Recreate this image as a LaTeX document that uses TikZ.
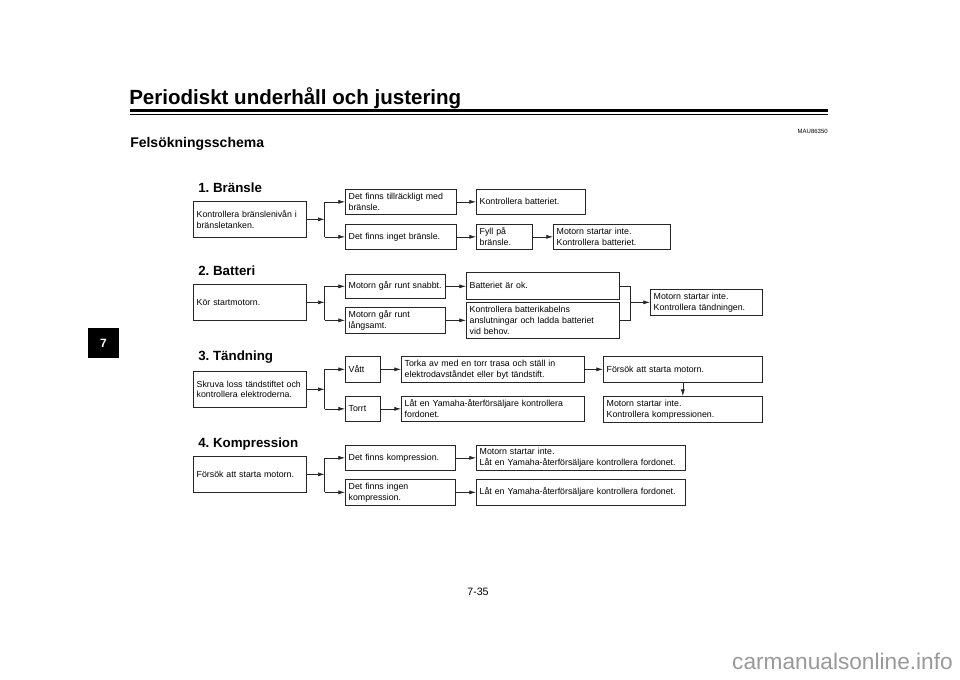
\documentclass[tikz,border=0pt]{standalone}
\usepackage{fontspec}
\setmainfont{Liberation Sans}
\usetikzlibrary{arrows.meta}
\frenchspacing

\tikzset{
  fbox/.style 2 args={draw=black!85,line width=0.5pt,rectangle,anchor=north west,
    inner xsep=2.5pt,inner ysep=0pt,minimum width=#1*0.75pt,minimum height=#2*0.75pt,
    text width=#1*0.75pt-5pt,align=left,font=\fontsize{6.6}{8.2}\selectfont},
  head/.style={anchor=west,inner sep=0pt,font=\fontsize{10}{12}\selectfont\bfseries},
  link/.style={draw=black!85,line width=0.5pt},
  arr/.style={link,-{Latex[length=5pt,width=3pt]}},
}

\begin{document}
\begin{tikzpicture}[x=0.75pt,y=-0.75pt]
\useasboundingbox[fill=white] (0,0) rectangle (960,679);

\node[anchor=base west,inner sep=0pt,font=\fontsize{15.4}{18}\selectfont\bfseries] (title) at (129,104) {Periodiskt underhåll och justering};
\draw[line width=1.8pt] (130,110.5) -- (828,110.5);
\draw[line width=0.6pt] (130,114) -- (828,114);
\node[anchor=east,inner sep=0pt,font=\fontsize{4.5}{5}\selectfont] (code) at (828,131) {MAU86350};
\node[anchor=base west,inner sep=0pt,font=\fontsize{10.5}{12}\selectfont\bfseries] (sub) at (130,147) {Felsökningsschema};

\node[fill=black,minimum width=31*0.75pt,minimum height=30*0.75pt,inner sep=0pt,text=white,font=\fontsize{9}{10}\selectfont\bfseries] (tab) at (103.5,343) {7};
\node[font=\fontsize{8}{10}\selectfont,inner sep=0pt] (page) at (478,592) {7-35};
\node[anchor=east,inner sep=0pt,text=black!40,font=\fontsize{17}{20}\selectfont] (wm) at (953,661) {carmanualsonline.info};

% 1. Bränsle
\node[head] (h1) at (198,188) {1. Bränsle};
\node[fbox={113}{36}] (a1) at (193,201) {Kontrollera bränslenivån i\\bränsletanken.};
\node[fbox={111}{25}] (b11) at (345,189) {Det finns tillräckligt med\\bränsle.};
\node[fbox={111}{25}] (b12) at (345,224) {Det finns inget bränsle.};
\node[fbox={109}{25}] (c11) at (476,189) {Kontrollera batteriet.};
\node[fbox={56}{25}] (c12) at (476,224) {Fyll på\\bränsle.};
\node[fbox={117}{25}] (d12) at (553,224) {Motorn startar inte.\\Kontrollera batteriet.};
\path (a1.east) ++(18,0) coordinate (j1);
\draw[arr] (a1.east) -- (j1);
\draw[link] (j1 |- b11.west) -- (j1 |- b12.west);
\draw[arr] (j1 |- b11.west) -- (b11.west);
\draw[arr] (j1 |- b12.west) -- (b12.west);
\draw[arr] (b11.east) -- (c11.west);
\draw[arr] (b12.east) -- (c12.west);
\draw[arr] (c12.east) -- (d12.west);

% 2. Batteri
\node[head] (h2) at (198,271) {2. Batteri};
\node[fbox={113}{36}] (a2) at (193,284) {Kör startmotorn.};
\node[fbox={100}{24}] (b21) at (345,274) {Motorn går runt snabbt.};
\node[fbox={100}{26}] (b22) at (345,307) {Motorn går runt\\långsamt.};
\node[fbox={153}{27}] (c21) at (466,272) {Batteriet är ok.};
\node[fbox={153}{36}] (c22) at (466,302) {Kontrollera batterikabelns\\anslutningar och ladda batteriet\\vid behov.};
\node[fbox={112}{26}] (d2) at (650,289) {Motorn startar inte.\\Kontrollera tändningen.};
\path (a2.east) ++(18,0) coordinate (j2);
\coordinate (m2) at (630,302);
\draw[arr] (a2.east) -- (j2);
\draw[link] (j2 |- b21.west) -- (j2 |- b22.west);
\draw[arr] (j2 |- b21.west) -- (b21.west);
\draw[arr] (j2 |- b22.west) -- (b22.west);
\draw[arr] (b21.east) -- (b21.east -| c21.west);
\draw[arr] (b22.east) -- (c22.west);
\draw[link] (c21.east) -- (m2 |- c21.east) -- (m2 |- c22.east) -- (c22.east);
\draw[arr] (m2 |- d2.west) -- (d2.west);

% 3. Tändning
\node[head] (h3) at (198,357) {3. Tändning};
\node[fbox={113}{36}] (a3) at (193,371) {Skruva loss tändstiftet och\\kontrollera elektroderna.};
\node[fbox={35}{26}] (b31) at (345,356) {Vått};
\node[fbox={35}{25}] (b32) at (345,396) {Torrt};
\node[fbox={183}{26}] (c31) at (401,356) {Torka av med en torr trasa och ställ in\\elektrodavståndet eller byt tändstift.};
\node[fbox={183}{25}] (c32) at (401,396) {Låt en Yamaha-återförsäljare kontrollera\\fordonet.};
\node[fbox={159}{26}] (d31) at (603,356) {Försök att starta motorn.};
\node[fbox={159}{26}] (d32) at (603,396) {Motorn startar inte.\\Kontrollera kompressionen.};
\path (a3.east) ++(18,0) coordinate (j3);
\draw[arr] (a3.east) -- (j3);
\draw[link] (j3 |- b31.west) -- (j3 |- b32.west);
\draw[arr] (j3 |- b31.west) -- (b31.west);
\draw[arr] (j3 |- b32.west) -- (b32.west);
\draw[arr] (b31.east) -- (c31.west);
\draw[arr] (b32.east) -- (c32.west);
\draw[arr] (c31.east) -- (d31.west);
\draw[arr] (d31.south) -- (d32.north);

% 4. Kompression
\node[head] (h4) at (198,444) {4. Kompression};
\node[fbox={113}{36}] (a4) at (193,456) {Försök att starta motorn.};
\node[fbox={110}{25}] (b41) at (345,445) {Det finns kompression.};
\node[fbox={110}{26}] (b42) at (345,479) {Det finns ingen\\kompression.};
\node[fbox={209}{25}] (c41) at (476,445) {Motorn startar inte.\\Låt en Yamaha-återförsäljare kontrollera fordonet.};
\node[fbox={209}{26}] (c42) at (476,479) {Låt en Yamaha-återförsäljare kontrollera fordonet.};
\path (a4.east) ++(18,0) coordinate (j4);
\draw[arr] (a4.east) -- (j4);
\draw[link] (j4 |- b41.west) -- (j4 |- b42.west);
\draw[arr] (j4 |- b41.west) -- (b41.west);
\draw[arr] (j4 |- b42.west) -- (b42.west);
\draw[arr] (b41.east) -- (c41.west);
\draw[arr] (b42.east) -- (c42.west);
\end{tikzpicture}
\end{document}
